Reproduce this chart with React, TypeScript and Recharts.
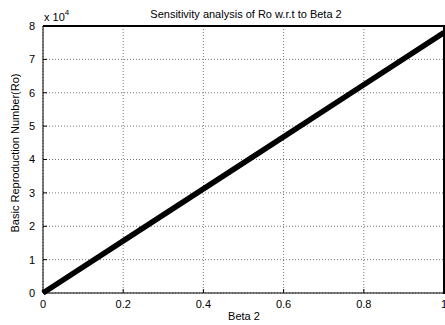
import React from 'react';
import { LineChart, Line, XAxis, YAxis, CartesianGrid } from 'recharts';

const betaValues = [0, 0.25, 0.5, 0.75, 1];
const roValues = [0, 19500, 39000, 58500, 78000];
const xTicks = [0, 0.2, 0.4, 0.6, 0.8, 1];
const yTicks = [0, 10000, 20000, 30000, 40000, 50000, 60000, 70000, 80000];

const title = 'Sensitivity analysis of Ro w.r.t to Beta 2';
const xLabel = 'Beta 2';
const yLabel = 'Basic Reproduction Number(Ro)';

const data = betaValues.map((b, i) => ({ beta: b, ro: roValues[i] }));

const FONT = 'Liberation Sans, Arial, sans-serif';

export default function App() {
  return (
    <div style={{ position: 'absolute', left: 0, top: 0, width: 445, height: 325, background: '#fff' }}>
      <LineChart
        width={445}
        height={325}
        data={data}
        margin={{ top: 26, right: 1, bottom: 0, left: 0 }}
        style={{ fontFamily: FONT }}
      >
        <CartesianGrid stroke="#777" strokeDasharray="1 2" strokeWidth={1} />
        <XAxis
          dataKey="beta"
          type="number"
          domain={[0, 1]}
          ticks={xTicks}
          height={32}
          tickSize={-4}
          tickMargin={11}
          stroke="#000"
          tick={{ fill: '#000', fontSize: 11, fontFamily: FONT }}
          tickFormatter={(v: number) => String(v)}
          interval={0}
        />
        <YAxis
          type="number"
          domain={[0, 80000]}
          ticks={yTicks}
          width={43}
          tickSize={-4}
          tickMargin={12}
          stroke="#000"
          tick={{ fill: '#000', fontSize: 11, fontFamily: FONT }}
          tickFormatter={(v: number) => String(v / 10000)}
          interval={0}
        />
        <Line
          dataKey="ro"
          stroke="#000"
          strokeWidth={5.5}
          dot={false}
          isAnimationActive={false}
        />
        <text x={246} y={18} textAnchor="middle" fontSize={11} fontFamily={FONT} fill="#000">
          {title}
        </text>
        <text x={44} y={21} fontSize={11} fontFamily={FONT} fill="#000">
          x 10
          <tspan fontSize={8} dy={-6}>4</tspan>
        </text>
        <text x={244} y={320} textAnchor="middle" fontSize={11} fontFamily={FONT} fill="#000">
          {xLabel}
        </text>
        <text
          x={15}
          y={153}
          textAnchor="middle"
          dominantBaseline="central"
          fontSize={11}
          fontFamily={FONT}
          fill="#000"
          transform="rotate(-90 15 153)"
        >
          {yLabel}
        </text>
      </LineChart>
      <div
        style={{
          position: 'absolute',
          left: 43,
          top: 25,
          width: 402,
          height: 269,
          boxSizing: 'border-box',
          borderTop: '2px solid #000',
          borderRight: '2px solid #000',
          pointerEvents: 'none',
        }}
      />
    </div>
  );
}
